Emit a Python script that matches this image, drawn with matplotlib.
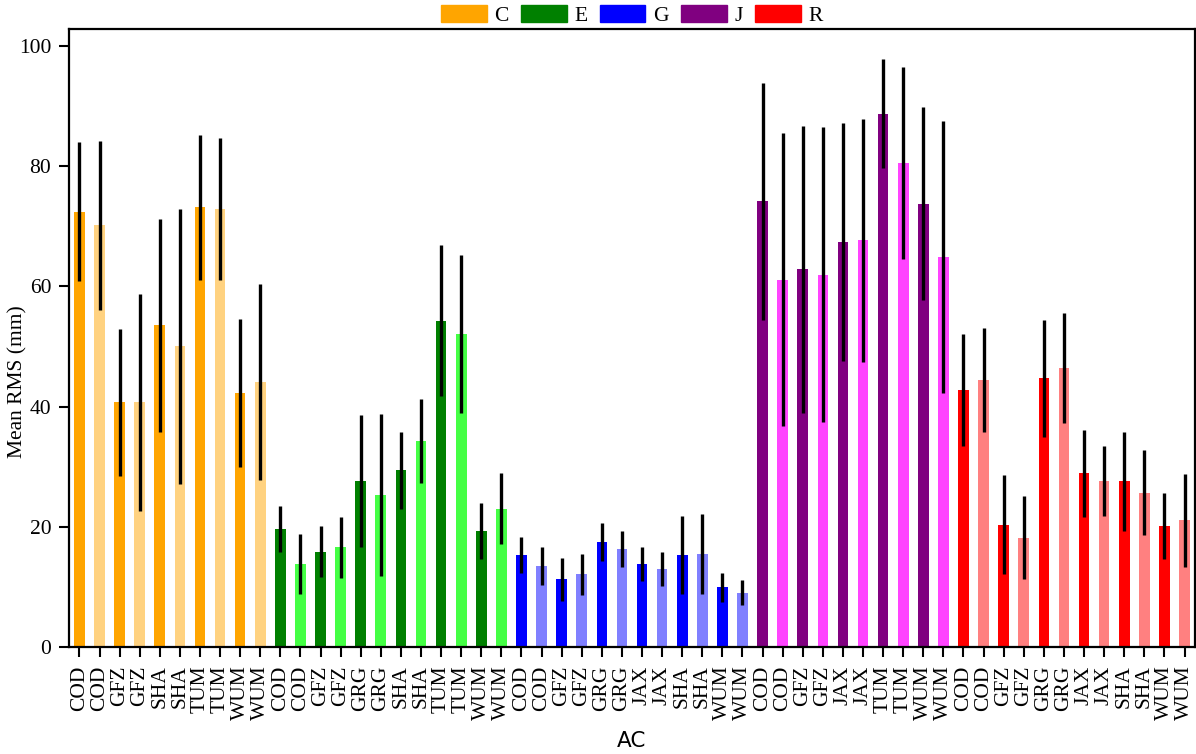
import numpy as np
import matplotlib.pyplot as plt
from matplotlib.patches import Patch

plt.rcParams['font.family'] = ['Liberation Serif', 'DejaVu Serif']
plt.rcParams['font.size'] = 15.5

# estaciones / grupos
groups = ['C', 'E', 'G', 'J', 'R']
ac_C = ['COD', 'COD', 'GFZ', 'GFZ', 'SHA', 'SHA', 'TUM', 'TUM', 'WUM', 'WUM']
ac_E = ['COD', 'COD', 'GFZ', 'GFZ', 'GRG', 'GRG', 'SHA', 'SHA', 'TUM', 'TUM', 'WUM', 'WUM']
ac_G = ['COD', 'COD', 'GFZ', 'GFZ', 'GRG', 'GRG', 'JAX', 'JAX', 'SHA', 'SHA', 'WUM', 'WUM']
ac_J = ['COD', 'COD', 'GFZ', 'GFZ', 'JAX', 'JAX', 'TUM', 'TUM', 'WUM', 'WUM']
ac_R = ['COD', 'COD', 'GFZ', 'GFZ', 'GRG', 'GRG', 'JAX', 'JAX', 'SHA', 'SHA', 'WUM', 'WUM']

mean_C = [72.4, 70.1, 40.7, 40.7, 53.5, 50.0, 73.1, 72.9, 42.3, 44.1]
std_C = [11.5, 14.1, 12.2, 18.0, 17.7, 22.8, 12.0, 11.8, 12.3, 16.3]
mean_E = [19.6, 13.8, 15.9, 16.6, 27.6, 25.3, 29.4, 34.3, 54.3, 52.1, 19.3, 23.0]
std_E = [3.8, 5.0, 4.2, 5.1, 11.0, 13.5, 6.4, 7.0, 12.6, 13.1, 4.6, 5.9]
mean_G = [15.3, 13.5, 11.3, 12.1, 17.5, 16.3, 13.8, 13.0, 15.3, 15.5, 10.0, 9.1]
std_G = [3.0, 3.1, 3.6, 3.4, 3.1, 3.0, 2.8, 2.8, 6.5, 6.7, 2.4, 2.1]
mean_J = [74.1, 61.1, 62.8, 61.9, 67.4, 67.6, 88.7, 80.5, 73.7, 64.8]
std_J = [19.7, 24.3, 23.8, 24.5, 19.8, 20.2, 9.0, 16.0, 16.0, 22.6]
mean_R = [42.7, 44.4, 20.4, 18.2, 44.7, 46.4, 28.9, 27.6, 27.6, 25.7, 20.2, 21.1]
std_R = [9.3, 8.6, 8.2, 6.9, 9.7, 9.1, 7.2, 5.8, 8.2, 7.1, 5.5, 7.7]

dark = {'C': '#FFA500', 'E': '#008000', 'G': '#0000FF', 'J': '#800080', 'R': '#FF0000'}
light = {'C': '#FFD280', 'E': '#44FF44', 'G': '#8080FF', 'J': '#FF44FF', 'R': '#FF8080'}

labels = ac_C + ac_E + ac_G + ac_J + ac_R
means = mean_C + mean_E + mean_G + mean_J + mean_R
stds = std_C + std_E + std_G + std_J + std_R
colors = []
for g, n in zip(groups, [len(ac_C), len(ac_E), len(ac_G), len(ac_J), len(ac_R)]):
    colors += [dark[g] if i % 2 == 0 else light[g] for i in range(n)]

x = np.arange(len(labels))

fig = plt.figure(figsize=(11.96, 7.54), dpi=100)
ax = fig.add_axes([0.058, 0.1415, 0.9408, 0.8197])
ax.bar(x, means, width=0.53, color=colors, yerr=stds,
       error_kw=dict(ecolor='black', elinewidth=2.4, capsize=0))

ax.set_xticks(x)
ax.set_xticklabels(labels, rotation=90)
ax.set_xlim(-0.5, 55.5)
ax.set_ylim(0, 102.7)
ax.set_yticks([0, 20, 40, 60, 80, 100])
ax.set_ylabel('Mean RMS (mm)')
ax.yaxis.set_label_coords(-0.037, 0.43)
ax.set_xlabel('AC', family='DejaVu Sans', fontsize=15.5, labelpad=8)
for s in ax.spines.values():
    s.set_linewidth(1.6)
ax.tick_params(width=1.5, length=7, pad=6)

handles = [Patch(facecolor=dark[g], edgecolor=dark[g]) for g in groups]
ax.legend(handles, groups, loc='center', bbox_to_anchor=(0.5, 1.022), ncol=5,
          frameon=False, handlelength=2.1, handleheight=0.85, handletextpad=0.35,
          columnspacing=0.6, borderpad=0.0)

plt.savefig('out.png')
